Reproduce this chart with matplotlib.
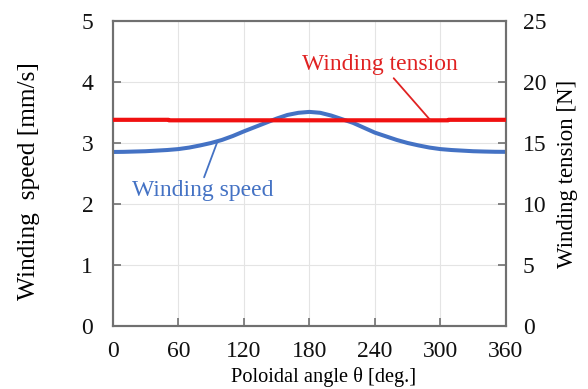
import matplotlib
matplotlib.use("Agg")
import matplotlib.pyplot as plt

# Poloidal angle [deg.]
theta = [0, 10, 20, 30, 40, 50, 60, 70, 80, 90, 100, 110, 120, 130, 140, 150, 160, 170, 180,
         190, 200, 210, 220, 230, 240, 250, 260, 270, 280, 290, 300, 310, 320, 330, 340, 350, 360]
# Winding speed [mm/s]
speed = [2.853, 2.855, 2.86, 2.865, 2.875, 2.885, 2.90, 2.925, 2.96, 3.00, 3.05, 3.115, 3.19,
         3.26, 3.33, 3.40, 3.46, 3.495, 3.51, 3.495, 3.45, 3.39, 3.33, 3.25, 3.17, 3.11, 3.05,
         3.00, 2.96, 2.925, 2.90, 2.885, 2.875, 2.865, 2.86, 2.856, 2.855]
# Winding tension [N]
tension_theta = [0, 51, 51.5, 307, 307.5, 360]
tension = [16.9, 16.9, 16.86, 16.86, 16.9, 16.9]

x_ticks = [0, 60, 120, 180, 240, 300, 360]
left_ticks = [0, 1, 2, 3, 4, 5]
right_ticks = [0, 5, 10, 15, 20, 25]

blue = "#4472C4"
red = "#F01010"
red_text = "#E02222"
spine_c = "#707070"

plt.rcParams["font.family"] = ["Liberation Serif", "DejaVu Serif"]

fig = plt.figure(figsize=(5.88, 3.89), dpi=100)
ax = fig.add_axes([0.1917, 0.162, 0.6688, 0.784])
ax2 = ax.twinx()

ax.plot(theta, speed, color=blue, lw=2.9, solid_capstyle="butt", zorder=3)
ax2.plot(tension_theta, tension, color=red, lw=3.0, solid_capstyle="butt", zorder=3)

ax.set_xlim(0, 360)
ax.set_ylim(0, 5)
ax2.set_ylim(0, 25)
ax.set_xticks(x_ticks)
ax.set_yticks(left_ticks)
ax2.set_yticks(right_ticks)

ax.grid(True, color="#e4e4e4", lw=0.8)
ax.set_axisbelow(True)

for a in (ax, ax2):
    for s in a.spines.values():
        s.set_color(spine_c)
        s.set_linewidth(1.5)
    a.tick_params(direction="in", length=6, width=1.2, color=spine_c,
                  labelsize=17, labelcolor="#111111")
ax.tick_params(axis="x", pad=11)
ax.tick_params(axis="y", pad=14)
ax2.tick_params(axis="y", pad=12)

ax.set_xlabel("Poloidal angle θ [deg.]", fontsize=14.7)
ax.xaxis.set_label_coords(0.537, -0.135)
ax.set_ylabel("Winding  speed [mm/s]", fontsize=18.3)
ax.yaxis.set_label_coords(-0.185, 0.475)
ax2.set_ylabel("Winding tension [N]", fontsize=16.5)
ax2.yaxis.set_label_coords(1.13, 0.5)

ax.annotate("Winding speed", xy=(96, 3.03), xytext=(82.7, 2.22),
            fontsize=17, color=blue, ha="center", va="center",
            arrowprops=dict(arrowstyle="-", color=blue, lw=1.3,
                            shrinkA=0, shrinkB=0,
                            relpos=(0.5, 1.0)))
ax2.annotate("Winding tension", xy=(290.5, 16.9), xytext=(245, 21.4),
             fontsize=17, color=red_text, ha="center", va="center",
             arrowprops=dict(arrowstyle="-", color=red_text, lw=1.3,
                             shrinkA=0, shrinkB=0,
                             relpos=(0.57, 0.0)))

fig.savefig("out.png", dpi=100)
